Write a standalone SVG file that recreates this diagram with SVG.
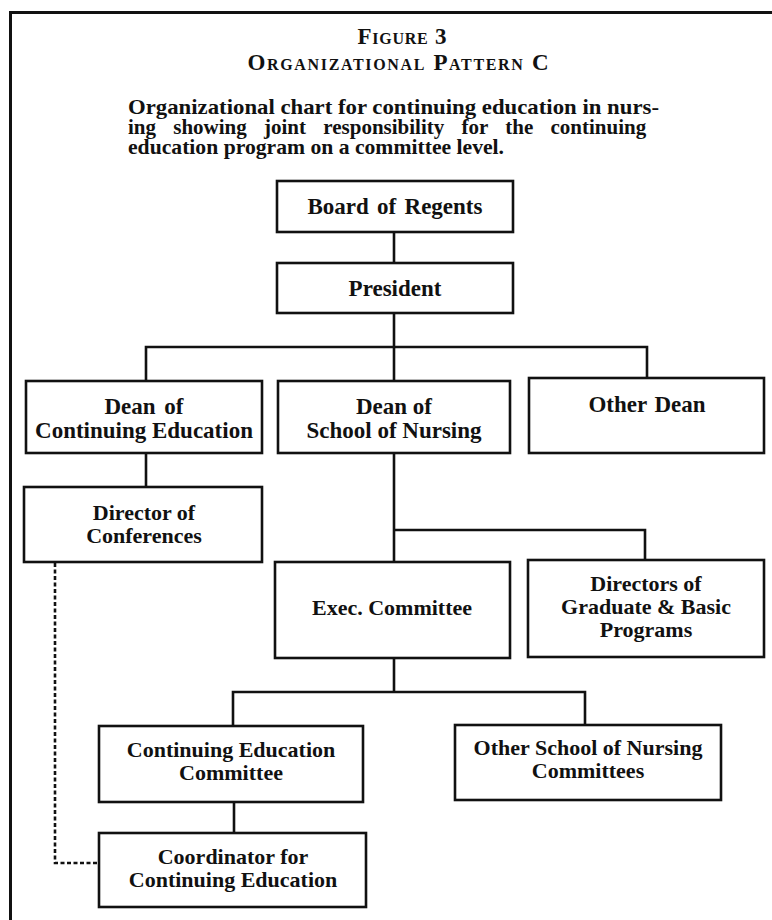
<svg xmlns="http://www.w3.org/2000/svg" width="772" height="920" viewBox="0 0 772 920">
<style>
  text { font-family: "Liberation Serif", "Times New Roman", serif; font-weight: bold; fill: #111; }
  .lbl { font-size: 22px; text-anchor: middle; }
  .up { font-size: 23px; }
  .ttl { font-size: 23px; text-anchor: middle; font-variant: small-caps; }
  .par { font-size: 21px; }
  .box { fill: #fff; stroke: #111; stroke-width: 2.6; }
  .con { fill: none; stroke: #111; stroke-width: 2.6; }
  .dash { fill: none; stroke: #111; stroke-width: 2.6; stroke-dasharray: 4 2.5; }
  .frame { fill: none; stroke: #111; stroke-width: 3; }
</style>
<rect x="0" y="0" width="772" height="920" fill="#fff"/>
<g id="frame">
  <polyline class="frame" points="10.5,920 10.5,12.5 772,12.5"/>
</g>
<g id="title">
  <text class="ttl" x="402" y="44" textLength="89" lengthAdjust="spacing">Figure 3</text>
  <text class="ttl" x="398" y="70" textLength="301" lengthAdjust="spacing">Organizational Pattern C</text>
  <text class="par" x="128" y="114" textLength="531" lengthAdjust="spacingAndGlyphs">Organizational chart for continuing education in nurs-</text>
  <text class="par" x="128" y="134" word-spacing="12">ing showing joint responsibility for the continuing</text>
  <text class="par" x="128" y="154" textLength="376" lengthAdjust="spacingAndGlyphs">education program on a committee level.</text>
</g>
<g id="connectors">
  <line class="con" x1="394" y1="232" x2="394" y2="263"/>
  <line class="con" x1="394" y1="313" x2="394" y2="347"/>
  <polyline class="con" points="146,381 146,347 647,347 647,378"/>
  <line class="con" x1="394" y1="347" x2="394" y2="381"/>
  <line class="con" x1="146" y1="453" x2="146" y2="487"/>
  <polyline class="con" points="394,453 394,562"/>
  <polyline class="con" points="394,530 645,530 645,560"/>
  <line class="con" x1="394" y1="658" x2="394" y2="692"/>
  <polyline class="con" points="233,726 233,692 585,692 585,725"/>
  <line class="con" x1="234" y1="802" x2="234" y2="833"/>
  <polyline class="dash" points="55,563 55,863 99,863"/>
</g>
<g id="board">
  <rect class="box" x="277" y="181" width="236" height="51"/>
  <text class="lbl up" x="395" y="214" word-spacing="2.5">Board of Regents</text>
</g>
<g id="president">
  <rect class="box" x="277" y="263" width="236" height="50"/>
  <text class="lbl up" x="395" y="296">President</text>
</g>
<g id="dean-ce">
  <rect class="box" x="26" y="381" width="236" height="72"/>
  <text class="lbl up" x="144" y="414" word-spacing="3">Dean of</text>
  <text class="lbl up" x="144" y="438">Continuing Education</text>
</g>
<g id="dean-sn">
  <rect class="box" x="278" y="381" width="232" height="72"/>
  <text class="lbl up" x="394" y="414">Dean of</text>
  <text class="lbl up" x="394" y="438">School of Nursing</text>
</g>
<g id="other-dean">
  <rect class="box" x="529" y="378" width="235" height="75"/>
  <text class="lbl up" x="647" y="412" word-spacing="2">Other Dean</text>
</g>
<g id="director-conf">
  <rect class="box" x="24" y="487" width="238" height="75"/>
  <text class="lbl" x="144" y="520">Director of</text>
  <text class="lbl" x="144" y="543">Conferences</text>
</g>
<g id="exec">
  <rect class="box" x="275" y="562" width="235" height="96"/>
  <text class="lbl" x="392" y="615">Exec. Committee</text>
</g>
<g id="directors">
  <rect class="box" x="528" y="560" width="236" height="97"/>
  <text class="lbl" x="646" y="591">Directors of</text>
  <text class="lbl" x="646" y="614">Graduate &amp; Basic</text>
  <text class="lbl" x="646" y="637">Programs</text>
</g>
<g id="ce-committee">
  <rect class="box" x="99" y="726" width="264" height="76"/>
  <text class="lbl" x="231" y="757">Continuing Education</text>
  <text class="lbl" x="231" y="780">Committee</text>
</g>
<g id="other-son">
  <rect class="box" x="455" y="725" width="266" height="75"/>
  <text class="lbl" x="588" y="755">Other School of Nursing</text>
  <text class="lbl" x="588" y="778">Committees</text>
</g>
<g id="coordinator">
  <rect class="box" x="99" y="833" width="267" height="74"/>
  <text class="lbl" x="233" y="864">Coordinator for</text>
  <text class="lbl" x="233" y="887">Continuing Education</text>
</g>
</svg>
